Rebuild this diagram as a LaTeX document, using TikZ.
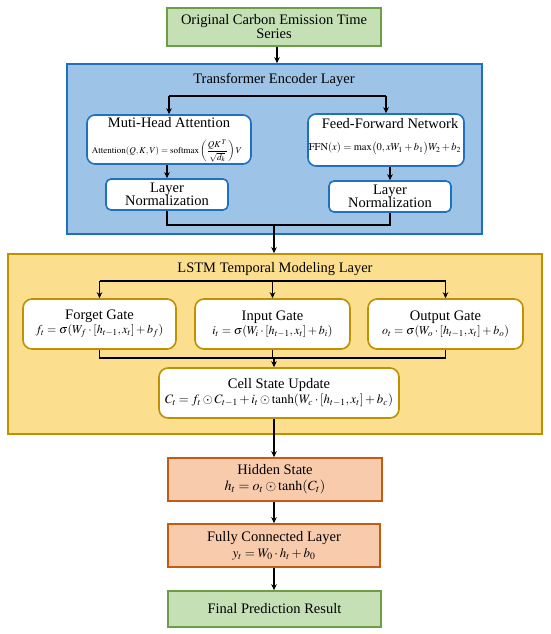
\documentclass[tikz,border=0pt]{standalone}
\usepackage{amsmath}
\usepackage{mathptmx}
\usepackage[no-math]{fontspec}
\setmainfont{Liberation Serif}
\usetikzlibrary{arrows.meta}
\definecolor{gfill}{HTML}{C5E0B4}
\definecolor{gdraw}{HTML}{6A9F45}
\definecolor{bfill}{HTML}{9DC3E6}
\definecolor{bdraw}{HTML}{1F70C1}
\definecolor{yfill}{HTML}{FCDF8E}
\definecolor{ydraw}{HTML}{BF9000}
\definecolor{ofill}{HTML}{F8CBAD}
\definecolor{odraw}{HTML}{C55A11}
\newcommand{\tsz}{\fontsize{14.5}{15}\selectfont}
\newcommand{\fsz}{\fontsize{12}{14}\selectfont}
\newcommand{\gsz}{\fontsize{13}{15}\selectfont}
\begin{document}
\begin{tikzpicture}[x=1pt,y=-1pt,
  base/.style={minimum width=#1, inner sep=0pt, align=center, line width=1.6pt},
  greenbox/.style={base=#1, draw=gdraw, fill=gfill, font=\tsz},
  orangebox/.style={base=#1, draw=odraw, fill=ofill, font=\tsz},
  layerblue/.style={base=#1, draw=bdraw, fill=bfill},
  layeryellow/.style={base=#1, draw=ydraw, fill=yfill},
  bluein/.style={base=#1, draw=bdraw, fill=white, rounded corners=8pt, font=\tsz},
  yellowin/.style={base=#1, draw=ydraw, fill=white, rounded corners=9pt, font=\tsz},
  ttl/.style={font=\tsz, inner sep=0pt},
  conn/.style={line width=1.5pt, black},
  arr/.style={conn, -{Stealth[length=6pt,width=5.5pt]}}
]
\useasboundingbox (0,0) rectangle (550,634);

% top
\node[greenbox=214, minimum height=38] (orig) at (274,27) {Original Carbon Emission Time\\[-1pt]Series};

% Transformer encoder
\node[layerblue=415, minimum height=170] (enc) at (274.5,149) {};
\node[ttl] (encT) at (274,80) {Transformer Encoder Layer};
\node[bluein=164, minimum height=49] (mha) at (169,139.5) {};
\node[ttl] (mhaT) at (169,123) {Muti-Head Attention};
\node[inner sep=0pt, font=\fontsize{9}{10}\selectfont] (mhaF) at (167,151)
  {$\mathrm{Attention}(Q,K,V)=\mathrm{softmax}\left(\dfrac{QK^{\,T}}{\sqrt{d_k}}\right)V$};
\node[bluein=156, minimum height=52] (ffn) at (386,140) {};
\node[ttl] (ffnT) at (390,124) {Feed-Forward Network};
\node[inner sep=0pt, font=\fontsize{10.5}{12}\selectfont] (ffnF) at (385,148)
  {$\mathrm{FFN}(x)=\max\bigl(0,xW_1+b_1\bigr)W_2+b_2$};
\node[bluein=122, minimum height=31, rounded corners=5pt] (lnL) at (167,194.5) {Layer\\[-2pt]Normalization};
\node[bluein=122, minimum height=31, rounded corners=5pt] (lnR) at (390,196.5) {Layer\\[-2pt]Normalization};

% LSTM layer
\node[layeryellow=534, minimum height=180] (lstm) at (275,344) {};
\node[ttl] (lstmT) at (275,269) {LSTM Temporal Modeling Layer};
\node[yellowin=153, minimum height=50] (fg) at (99.5,324) {Forget Gate\\[-1pt]
  {\fsz $f_t=\sigma(W_f\cdot[h_{t-1},x_t]+b_f)$}};
\node[yellowin=155, minimum height=50] (ig) at (272.5,324) {Input Gate\\[-1pt]
  {\fsz $i_t=\sigma(W_i\cdot[h_{t-1},x_t]+b_i)$}};
\node[yellowin=155, minimum height=50] (og) at (445.5,324) {Output Gate\\[-1pt]
  {\fsz $o_t=\sigma(W_o\cdot[h_{t-1},x_t]+b_o)$}};
\node[yellowin=240, minimum height=50] (cell) at (279,393) {Cell State Update\\[0pt]
  {\fontsize{12.8}{14}\selectfont $C_t=f_t\odot C_{t-1}+i_t\odot\tanh(W_c\cdot[h_{t-1},x_t]+b_c)$}};

% output chain
\node[orangebox=214, minimum height=43] (hid) at (275,479.5) {Hidden State\\[1pt]
  {\fontsize{14}{15}\selectfont $h_t=o_t\odot\tanh(C_t)$}};
\node[orangebox=212, minimum height=43] (fc) at (274,545.5) {Fully Connected Layer\\[1pt]
  {\gsz $y_t=W_0\cdot h_t+b_0$}};
\node[greenbox=213, minimum height=36] (fin) at (274.5,609) {Final Prediction Result};

% coordinates
\coordinate (encSplit) at (277,96);
\coordinate (encJoin) at (274,225);
\coordinate (lstmSplit) at (274,281);
\coordinate (lstmJoin) at (274,358);

% connectors
\draw[arr] (orig.south -| encSplit) -- (encSplit |- enc.north);
\draw[conn] (encSplit -| mha.north) -- (encSplit -| ffn.north);
\draw[arr] (encSplit -| mha.north) -- (mha.north);
\draw[arr] (encSplit -| ffn.north) -- (ffn.north);
\draw[arr] (lnL.north |- mha.south) -- (lnL.north);
\draw[arr] (lnR.north |- ffn.south) -- (lnR.north);
\draw[conn] (lnL.south) -- (lnL.south |- encJoin) -- (lnR.south |- encJoin) -- (lnR.south);
\draw[arr] (encJoin) -- (encJoin |- lstm.north);

\draw[conn] (lstmSplit -| fg.north) -- (lstmSplit -| og.north);
\draw[arr] (lstmSplit -| fg.north) -- (fg.north);
\draw[arr] (lstmSplit -| ig.north) -- (ig.north);
\draw[arr] (lstmSplit -| og.north) -- (og.north);
\draw[conn] (fg.south) -- (fg.south |- lstmJoin) -- (og.south |- lstmJoin) -- (og.south);
\draw[conn] (ig.south) -- (ig.south |- lstmJoin);
\draw[arr] (lstmJoin) -- (lstmJoin |- cell.north);

\draw[arr] (lstmJoin |- cell.south) -- (lstmJoin |- hid.north);
\draw[arr] (hid.south -| lstmJoin) -- (lstmJoin |- fc.north);
\draw[arr] (fc.south -| lstmJoin) -- (lstmJoin |- fin.north);
\end{tikzpicture}
\end{document}
